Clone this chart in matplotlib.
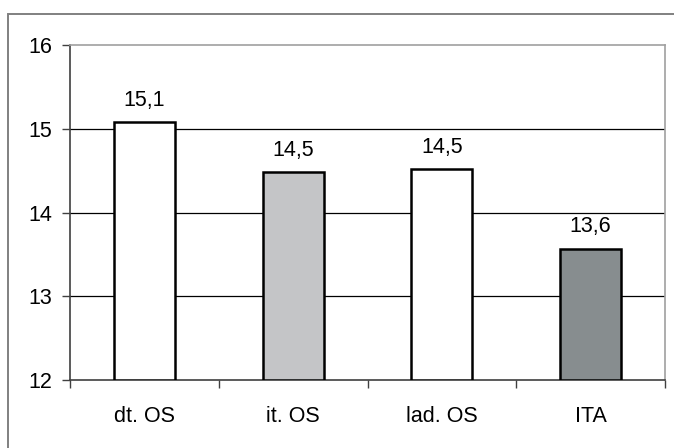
import matplotlib
matplotlib.use("Agg")
import matplotlib.pyplot as plt
from matplotlib.patches import Rectangle

categories = ["dt. OS", "it. OS", "lad. OS", "ITA"]
values = [15.08, 14.48, 14.52, 13.57]
value_labels = ["15,1", "14,5", "14,5", "13,6"]
colors = ["#ffffff", "#c4c5c7", "#ffffff", "#878d8f"]
yticks = [12, 13, 14, 15, 16]

plt.rcParams["font.family"] = ["Liberation Sans", "DejaVu Sans"]
FS = 15.5

fig = plt.figure(figsize=(6.74, 4.48), dpi=100)
fig.patches.append(Rectangle((8/674, -0.1), 1.2, (448-14)/448 + 0.1, transform=fig.transFigure,
                             fill=False, edgecolor="#808080", linewidth=1.4, zorder=0))
ax = fig.add_axes([70/674, 68/448, 595/674, 335/448])

x = list(range(len(categories)))
ax.bar(x, [v - 12 for v in values], bottom=12, width=0.41, color=colors,
       edgecolor="black", linewidth=1.8, zorder=3)

ax.set_xlim(-0.5, 3.5)
ax.set_ylim(12, 16)
ax.set_yticks(yticks)
ax.set_yticklabels([str(t) for t in yticks], fontsize=FS)
for yv in yticks[1:-1]:
    ax.axhline(yv, color="black", linewidth=0.9, zorder=1)

ax.set_xticks([-0.5, 0.5, 1.5, 2.5, 3.5])
ax.set_xticklabels([])
ax.set_xticks(x, minor=True)
ax.set_xticklabels(categories, minor=True, fontsize=FS)
ax.tick_params(axis="x", which="minor", length=0, pad=19)
ax.tick_params(axis="x", which="major", length=6, width=1, color="#404040", direction="out")
ax.tick_params(axis="y", length=6, width=1, color="#404040", direction="out", pad=7)

for xi, v, lab in zip(x, values, value_labels):
    ax.annotate(lab, (xi, v), xytext=(0, 8), textcoords="offset points",
                ha="center", va="bottom", fontsize=FS)

ax.spines["left"].set_color("#404040")
ax.spines["bottom"].set_color("#404040")
ax.spines["top"].set_color("#a0a0a0")
ax.spines["right"].set_color("#a0a0a0")
for s in ax.spines.values():
    s.set_linewidth(1.2)

fig.savefig("out.png", dpi=100)
